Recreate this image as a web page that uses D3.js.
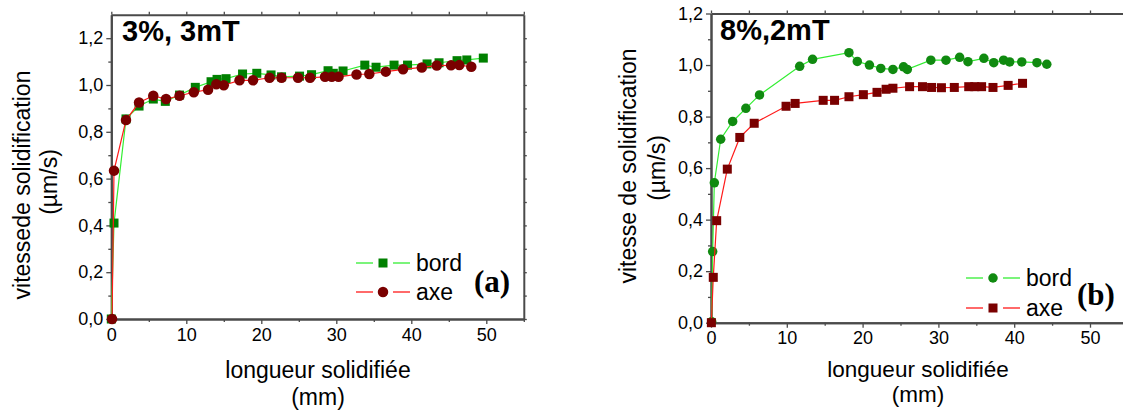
<!DOCTYPE html>
<html><head><meta charset="utf-8">
<script src="https://cdn.jsdelivr.net/npm/d3@7"></script>
<style>body{margin:0;background:#fff}svg{display:block}</style>
</head><body>
<svg id="c" width="1123" height="412"></svg>
<script>
// ---- Data (a) 3%, 3mT ----
const aBordX = [0, 0.36, 1.96, 3.7, 5.6, 7.2, 9.1, 11.2, 13.3, 14.1, 15.3, 17.5, 19.4, 21.3, 22.7, 25.1, 26.7, 28.9, 29.6, 30.9, 33.8, 35.3, 37.7, 39.5, 42.1, 43.7, 46.1, 47.4, 49.6];
const aBordY = [0, 0.41, 0.855, 0.91, 0.94, 0.93, 0.957, 0.99, 1.014, 1.024, 1.027, 1.047, 1.05, 1.043, 1.035, 1.038, 1.044, 1.061, 1.05, 1.06, 1.085, 1.076, 1.085, 1.085, 1.09, 1.095, 1.104, 1.107, 1.115];
const aAxeX = [0.1, 0.36, 1.96, 3.7, 5.6, 7.3, 9.1, 11.0, 12.9, 14.0, 15.0, 17.1, 18.9, 21.1, 22.7, 24.9, 26.5, 28.5, 29.4, 30.3, 32.7, 34.4, 36.6, 38.9, 41.4, 43.4, 45.3, 46.4, 48.0];
const aAxeY = [0, 0.634, 0.85, 0.925, 0.954, 0.94, 0.954, 0.969, 0.98, 1.003, 0.999, 1.02, 1.02, 1.031, 1.031, 1.031, 1.031, 1.035, 1.035, 1.035, 1.045, 1.047, 1.057, 1.067, 1.075, 1.083, 1.084, 1.085, 1.078];
// ---- Data (b) 8%, 2mT ----
const bBordX = [0.09, 0.22, 0.44, 1.28, 2.86, 4.6, 6.4, 11.7, 13.4, 18.2, 19.3, 20.9, 22.4, 24.0, 25.4, 25.9, 29.0, 31.0, 32.8, 33.9, 36.0, 37.3, 38.6, 39.4, 41.0, 43.0, 44.3];
const bBordY = [0.004, 0.276, 0.543, 0.712, 0.781, 0.832, 0.884, 0.995, 1.022, 1.048, 1.014, 1.0, 0.987, 0.983, 0.993, 0.983, 1.019, 1.019, 1.03, 1.013, 1.026, 1.009, 1.019, 1.012, 1.012, 1.009, 1.003];
const bAxeX = [0.05, 0.3, 0.75, 2.15, 3.8, 5.7, 9.9, 11.1, 14.8, 16.3, 18.2, 20.1, 21.9, 23.1, 24.0, 26.2, 27.9, 29.1, 30.4, 32.1, 34.0, 34.8, 35.7, 37.2, 39.2, 41.1];
const bAxeY = [0, 0.176, 0.396, 0.596, 0.719, 0.774, 0.84, 0.851, 0.863, 0.863, 0.877, 0.885, 0.894, 0.906, 0.91, 0.916, 0.916, 0.913, 0.912, 0.913, 0.916, 0.916, 0.916, 0.913, 0.921, 0.929];
// ---- Tick values / labels ----
const xMajor = [0, 10, 20, 30, 40, 50];
const xMinor = [5, 15, 25, 35, 45, 55];
const yMajor = [0, 0.2, 0.4, 0.6, 0.8, 1.0, 1.2];
const yMinor = [0.1, 0.3, 0.5, 0.7, 0.9, 1.1];
const seriesNames = ["bord", "axe"];

const SANS = "'Liberation Sans', Arimo, sans-serif";
const SERIF = "'Liberation Serif', 'Times New Roman', serif";
const svg = d3.select("#c");
const AXC = "#4a4a4a";
const GL = "#33ee33", GM = "#008000", RL = "#ff1a1a", RM = "#7a0000";
const fmt = v => d3.format(".1f")(v).replace(".", ",");

function zip(xs, ys){ return xs.map((x,i)=>({x, y: ys[i]})); }

function symbol(g, type, cx, cy, fill, size){
  if(type === "square"){
    g.append("rect").attr("x", cx - size/2).attr("y", cy - size/2).attr("width", size).attr("height", size).attr("fill", fill);
  } else {
    g.append("circle").attr("cx", cx).attr("cy", cy).attr("r", size/2).attr("fill", fill);
  }
}

function chart(cfg){
  const g = svg.append("g");
  const x = d3.scaleLinear().domain([0, 55]).range([cfg.x0, cfg.x1]);
  const y = d3.scaleLinear().domain([0, cfg.ymax]).range([cfg.y0, cfg.y1]);
  // axes
  g.append("g").attr("transform", `translate(0,${cfg.y0})`)
    .call(d3.axisBottom(x).tickValues(xMajor).tickSize(5).tickSizeOuter(0).tickPadding(4));
  g.append("g").attr("transform", `translate(0,${cfg.y0})`)
    .call(d3.axisBottom(x).tickValues(xMinor).tickSize(3).tickSizeOuter(0).tickFormat(""));
  g.append("g").attr("transform", `translate(${cfg.x0},0)`)
    .call(d3.axisLeft(y).tickValues(yMajor.filter(v=>v<=cfg.ymax+1e-9)).tickSize(5).tickSizeOuter(0).tickPadding(3).tickFormat(fmt));
  g.append("g").attr("transform", `translate(${cfg.x0},0)`)
    .call(d3.axisLeft(y).tickValues(yMinor.filter(v=>v<=cfg.ymax)).tickSize(3).tickSizeOuter(0).tickFormat(""));
  // top & right axes (frame)
  g.append("g").attr("transform", `translate(0,${cfg.y1})`)
    .call(d3.axisTop(x).tickValues(xMajor.concat(xMinor)).tickSize(3).tickSizeOuter(0).tickFormat(""));
  g.append("g").attr("transform", `translate(${x(55)},0)`)
    .call(d3.axisRight(y).tickValues(yMajor.concat(yMinor).filter(v=>v<=cfg.ymax)).tickSize(3).tickSizeOuter(0).tickFormat(""));
  g.selectAll(".domain").attr("stroke", AXC).attr("stroke-width", 2);
  g.selectAll(".tick line").attr("stroke", AXC).attr("stroke-width", 1.3);
  g.selectAll("g[font-family]").attr("font-family", SANS).attr("font-size", 18);
  g.selectAll(".tick text").attr("fill", "#000");

  const line = d3.line().x(d=>x(d.x)).y(d=>y(d.y));
  cfg.series.forEach(s=>{
    g.append("path").datum(s.data).attr("d", line).attr("fill","none").attr("stroke", s.lc).attr("stroke-width", 1.2);
    const mg = g.append("g");
    s.data.forEach(d=> symbol(mg, s.shape, x(d.x), y(d.y), s.mc, s.size));
  });

  // title
  g.append("text").attr("x", cfg.titleX).attr("y", cfg.titleY).text(cfg.title)
    .attr("font-family", SANS).attr("font-size", 29).attr("font-weight","bold").attr("fill","#000");
  // axis titles
  const ax = g.append("text").attr("text-anchor","middle").attr("font-family", SANS).attr("font-size", cfg.xlabFs).attr("fill","#000");
  ax.append("tspan").attr("x", cfg.xlabX).attr("y", cfg.xlabY1).text("longueur solidifiée");
  ax.append("tspan").attr("x", cfg.xlabX).attr("y", cfg.xlabY2).text("(mm)");
  g.append("text").attr("text-anchor","middle").attr("font-family", SANS).attr("font-size", 23).attr("fill","#000")
    .attr("transform", `translate(${cfg.ylabX1},${cfg.ylabC1}) rotate(-90)`).text(cfg.ylab);
  g.append("text").attr("text-anchor","middle").attr("font-family", SANS).attr("font-size", 23).attr("fill","#000")
    .attr("transform", `translate(${cfg.ylabX2},${cfg.ylabC2}) rotate(-90)`).text("(µm/s)");

  // legend
  cfg.series.forEach((s,i)=>{
    const ly = cfg.legY[i];
    const L = cfg.legX;
    g.append("line").attr("x1", L).attr("x2", L+17).attr("y1", ly).attr("y2", ly).attr("stroke", s.lc).attr("stroke-width", 1.3);
    g.append("line").attr("x1", L+37).attr("x2", L+54).attr("y1", ly).attr("y2", ly).attr("stroke", s.lc).attr("stroke-width", 1.3);
    symbol(g, s.shape, L+27, ly, s.mc, s.size);
    g.append("text").attr("x", L+60).attr("y", ly+8).text(seriesNames[i]).attr("font-family", SANS).attr("font-size", 23).attr("fill","#000");
  });
  g.append("text").attr("x", cfg.tagX).attr("y", cfg.tagY).text(cfg.tag)
    .attr("font-family", SERIF).attr("font-weight","bold").attr("font-size", 31).attr("fill","#000");
}

chart({
  x0: 111.3, x1: 111.3 + 55*7.5, y0: 319, y1: 14.8, ymax: 1.3,
  title: "3%, 3mT", titleX: 122, titleY: 41,
  xlabX: 318, xlabY1: 378, xlabY2: 405, xlabFs: 23,
  ylab: "vitessede solidification", ylabX1: 30, ylabC1: 185, ylabX2: 57, ylabC2: 182,
  legX: 356, legY: [263, 292],
  tag: "(a)", tagX: 474, tagY: 292,
  series: [
    {data: zip(aBordX, aBordY), lc: GL, mc: GM, shape: "square", size: 9},
    {data: zip(aAxeX, aAxeY), lc: RL, mc: RM, shape: "circle", size: 10.5}
  ]
});
chart({
  x0: 711, x1: 711 + 55*7.58, y0: 322.7, y1: 13.5, ymax: 1.2,
  title: "8%,2mT", titleX: 720, titleY: 40,
  xlabX: 918, xlabY1: 377, xlabY2: 402, xlabFs: 22.5,
  ylab: "vitesse de solidification", ylabX1: 636, ylabC1: 166, ylabX2: 665, ylabC2: 168,
  legX: 966, legY: [278, 308],
  tag: "(b)", tagX: 1077, tagY: 305,
  series: [
    {data: zip(bBordX, bBordY), lc: GL, mc: "#108a10", shape: "circle", size: 9.5},
    {data: zip(bAxeX, bAxeY), lc: RL, mc: RM, shape: "square", size: 9}
  ]
});
</script>
</body></html>
